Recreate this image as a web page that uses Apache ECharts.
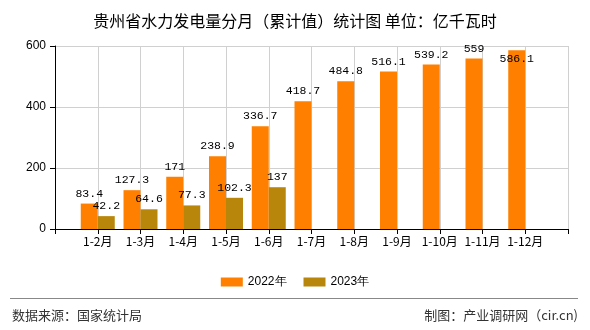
<!DOCTYPE html>
<html>
<head>
<meta charset="utf-8">
<script src="https://cdn.jsdelivr.net/npm/echarts@6/dist/echarts.min.js"></script>
<style>
html,body{margin:0;padding:0;background:#fff;}
#c{width:590px;height:330px;}
</style>
</head>
<body>
<div id="c"></div>
<script>
var titleText = '贵州省水力发电量分月（累计值）统计图 单位：亿千瓦时';
var categories = ['1-2月','1-3月','1-4月','1-5月','1-6月','1-7月','1-8月','1-9月','1-10月','1-11月','1-12月'];
var values2022 = [83.4,127.3,171,238.9,336.7,418.7,484.8,516.1,539.2,559,586.1];
var values2023 = [42.2,64.6,77.3,102.3,137];
var seriesNames = ['2022年','2023年'];
var yTicks = [0,200,400,600];
var sourceText = '数据来源：国家统计局';
var creditText = '制图：产业调研网（cir.cn)';

var axisData = [''].concat(categories).concat(['']);
function pad(arr, topLimit){
  var out = ['-'];
  for (var i = 0; i < categories.length; i++) {
    if (i < arr.length) {
      var item = {value: arr[i]};
      if (arr[i] > topLimit) item.label = {position: 'insideTop', distance: 3};
      out.push(item);
    } else out.push('-');
  }
  out.push('-');
  return out;
}

var chart = echarts.init(document.getElementById('c'), null, {renderer:'canvas'});
var labelStyle = {show:true, position:'top', distance:4, color:'#000', fontSize:11.5, fontFamily:'Liberation Mono, monospace'};
chart.setOption({
  animation:false,
  backgroundColor:'#fff',
  title:{text:titleText, left:'center', top:8, textStyle:{fontSize:16, fontWeight:'normal', color:'#000', fontFamily:'Noto Sans CJK SC'}},
  grid:{left:55, right:22, top:46, bottom:101, containLabel:false},
  legend:{data:seriesNames, top:271, left:'center', itemWidth:22, itemHeight:9, itemGap:17,
    textStyle:{fontSize:12, color:'#000', fontFamily:'Liberation Sans, Arial, sans-serif'}, icon:'rect'},
  xAxis:{type:'category', data:axisData, boundaryGap:false,
    axisLine:{lineStyle:{color:'#000', width:1}},
    axisTick:{show:true, length:5, lineStyle:{color:'#000'}, alignWithLabel:true},
    axisLabel:{color:'#000', fontSize:12, margin:6, interval:0, fontFamily:'Noto Sans CJK SC'},
    splitLine:{show:true, lineStyle:{color:'#d0d0d0'}}},
  yAxis:{type:'value', min:yTicks[0], max:yTicks[yTicks.length-1], interval:200,
    axisLine:{show:true, lineStyle:{color:'#000'}},
    axisTick:{show:true, length:5, lineStyle:{color:'#000'}},
    axisLabel:{color:'#000', fontSize:12, margin:9, fontFamily:'Liberation Sans, Arial, sans-serif'},
    splitLine:{show:true, lineStyle:{color:'#d0d0d0'}}},
  series:[
    {name:seriesNames[0], type:'bar', data:pad(values2022, 570), barWidth:17, barGap:'0%',
     itemStyle:{color:'#FF8000'}, label:labelStyle},
    {name:seriesNames[1], type:'bar', data:pad(values2023, 570), barWidth:17, barGap:'0%',
     itemStyle:{color:'#B8860B'}, label:labelStyle}
  ],
  graphic:[
    {type:'line', shape:{x1:10, y1:298.5, x2:578, y2:298.5}, style:{stroke:'#888', lineWidth:1}},
    {type:'text', left:12, top:309, style:{text:sourceText, fontSize:13, fill:'#333', fontFamily:'Noto Sans CJK SC'}},
    {type:'text', right:12, top:309, style:{text:creditText, fontSize:13, fill:'#333', fontFamily:'Noto Sans CJK SC'}}
  ]
});
</script>
</body>
</html>
